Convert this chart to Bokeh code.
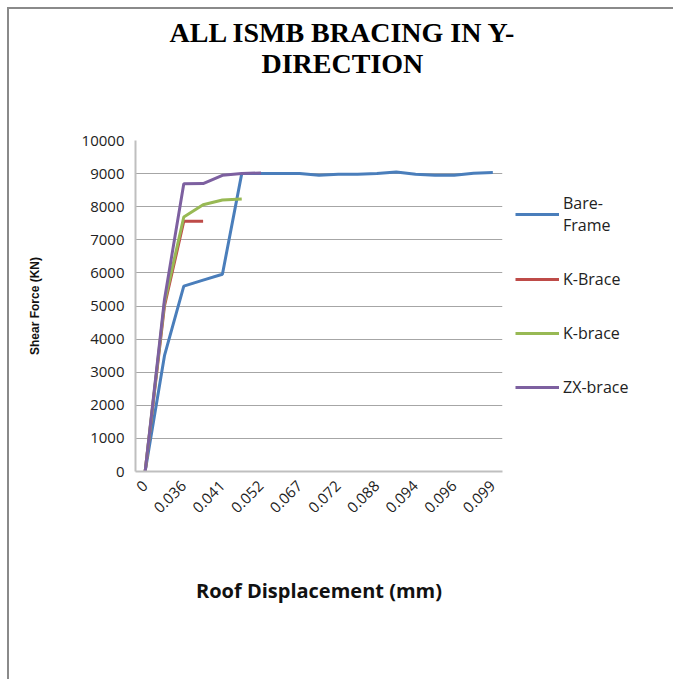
from math import pi
from bokeh.plotting import figure
from bokeh.models import (FixedTicker, Legend, LegendItem, Title, ColumnDataSource)
from bokeh.embed import file_html
from bokeh.resources import INLINE

# Displacement labels shown on axis (every other category)
disp_labels = ["0", "0.036", "0.041", "0.052", "0.067", "0.072", "0.088", "0.094", "0.096", "0.099"]
label_step = 2

bare_frame = [0, 3500, 5600, 5780, 5960, 9000, 9000, 9000, 9000, 8950, 8980, 8980,
              9000, 9050, 8980, 8950, 8950, 9010, 9030]
k_brace_r = [0, 5000, 7560, 7560]
k_brace_g = [0, 5100, 7690, 8060, 8200, 8230]
zx_brace = [0, 5200, 8690, 8700, 8950, 9000, 9020]

series_names = ["Bare-\nFrame", "K-Brace", "K-brace", "ZX-brace"]
series_vals = [bare_frame, k_brace_r, k_brace_g, zx_brace]
series_colors = ["#4a7ebb", "#be4b48", "#98b954", "#7d60a0"]

title_lines = ["ALL ISMB BRACING IN Y-", "DIRECTION"]

y_ticks = list(range(0, 10001, 1000))

n_cat = len(bare_frame)

p = figure(frame_width=367, frame_height=331, output_backend="svg", toolbar_location=None,
           x_range=(-0.5, n_cat - 0.5), y_range=(0, 10000),
           min_border_left=126, min_border_right=173, min_border_top=131,
           min_border_bottom=210, margin=(7, 0, 0, 7))
p.styles = {"border-left": "2px solid #8a8a8a", "border-top": "2px solid #8a8a8a"}

p.outline_line_color = None
p.background_fill_color = "white"

renderers = []
for name, vals, col in zip(series_names, series_vals, series_colors):
    src = ColumnDataSource(dict(x=list(range(len(vals))), y=vals))
    r = p.line("x", "y", source=src, line_color=col, line_width=3)
    renderers.append((name, r))

# axes
p.xaxis.ticker = FixedTicker(ticks=[i * label_step for i in range(len(disp_labels))])
p.xaxis.major_label_overrides = {i * label_step: lab for i, lab in enumerate(disp_labels)}
p.xaxis.major_label_orientation = pi / 4
p.xaxis.major_tick_line_color = None
p.xaxis.minor_tick_line_color = None
p.xaxis.axis_line_color = "#bfbfbf"
p.xaxis.axis_line_width = 2
p.xaxis.major_label_text_font = "Open Sans"
p.xaxis.major_label_text_font_size = "15px"
p.xaxis.major_label_text_color = "#222222"
p.xaxis.major_label_standoff = 6
p.xaxis.axis_label = "Roof Displacement (mm)"
p.xaxis.axis_label_text_font = "Open Sans"
p.xaxis.axis_label_text_font_style = "bold"
p.xaxis.axis_label_text_font_size = "20px"
p.xaxis.axis_label_text_color = "#111111"
p.xaxis.axis_label_standoff = 56

p.yaxis.ticker = FixedTicker(ticks=y_ticks)
p.yaxis.major_tick_line_color = None
p.yaxis.minor_tick_line_color = None
p.yaxis.axis_line_color = "#bfbfbf"
p.yaxis.axis_line_width = 2
p.yaxis.major_label_text_font = "Open Sans"
p.yaxis.major_label_text_font_size = "15px"
p.yaxis.major_label_text_color = "#222222"
p.yaxis.major_label_standoff = 5
p.yaxis.axis_label = "Shear Force (KN)"
p.yaxis.axis_label_text_font = "Liberation Sans"
p.yaxis.axis_label_text_font_style = "bold"
p.yaxis.axis_label_text_font_size = "12px"
p.yaxis.axis_label_text_color = "#111111"
p.yaxis.axis_label_standoff = 37

p.xgrid.grid_line_color = None
p.ygrid.grid_line_color = "#a6a6a6"
p.ygrid.grid_line_width = 1

legend = Legend(items=[LegendItem(label=n, renderers=[r]) for n, r in renderers],
                location=(13, 73), border_line_color=None, background_fill_alpha=0,
                label_text_font="Open Sans", label_text_font_size="16px",
                label_text_color="#222222", glyph_width=44, glyph_height=20,
                label_standoff=4, spacing=32, padding=0, margin=0)
p.add_layout(legend, "right")

# spacer between the title lines and the plot frame
p.add_layout(Title(text=" ", text_font_size="1px", standoff=57), "above")
title_font = dict(text_font="Liberation Serif", text_font_size="28px",
                  text_font_style="bold", text_color="black", align="left",
                  standoff=0, text_line_height=0.85)
p.add_layout(Title(text=title_lines[1], offset=126, vertical_align="top", **title_font), "above")
p.add_layout(Title(text=title_lines[0], offset=34, vertical_align="bottom", **title_font), "above")

open("out.html", "w").write(file_html(p, INLINE))
